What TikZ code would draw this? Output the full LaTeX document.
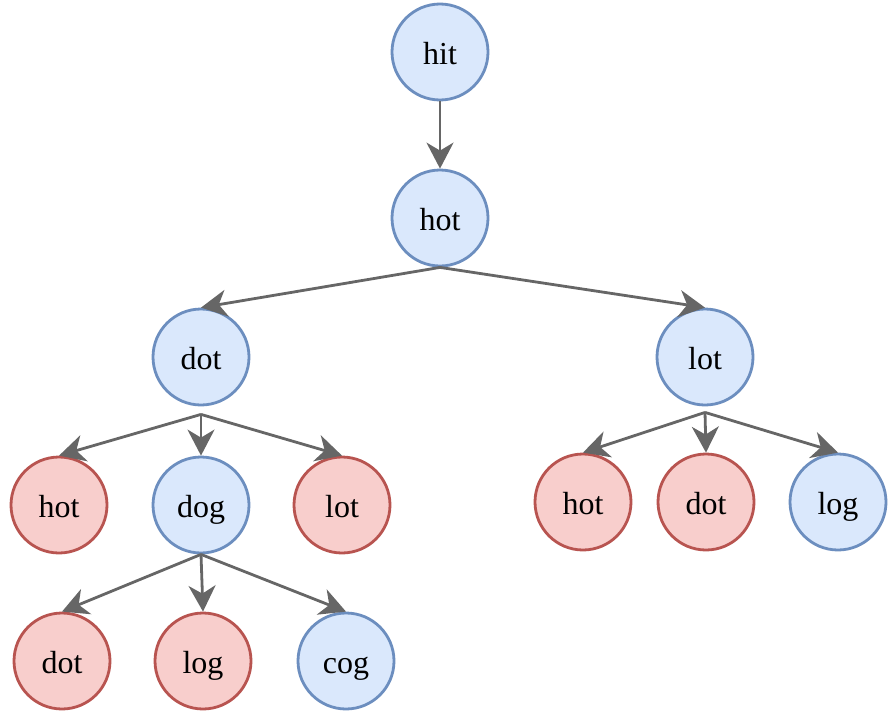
\documentclass[tikz,border=0pt]{standalone}
\usepackage{fontspec}
\setmainfont{Liberation Serif}
\usetikzlibrary{arrows.meta}
\definecolor{BlueFill}{HTML}{DAE8FC}
\definecolor{BlueLine}{HTML}{6C8EBF}
\definecolor{RedFill}{HTML}{F8CECC}
\definecolor{RedLine}{HTML}{B85450}
\definecolor{Edge}{HTML}{666666}

\begin{document}
\begin{tikzpicture}[x=1pt,y=-1pt,font=\fontsize{32}{36}\selectfont,
    word/.style={circle,line width=2.8pt,minimum size=96pt,inner sep=0pt,text height=24pt,text depth=0pt},
    keep/.style={word,draw=BlueLine,fill=BlueFill},
    seen/.style={word,draw=RedLine,fill=RedFill},
    edge/.style={draw=Edge,line width=2.8pt,-{Stealth[length=26pt,width=27pt,inset=8pt]}}]
        \useasboundingbox (0,0) rectangle (893,717);
        % levels of the search
        \node[keep] (hit) at (440,52) {hit};
        \node[keep] (hot) at (440,218) {hot};
        \node[keep] (dot) at (201,357) {dot};
        \node[keep] (lot) at (705,357) {lot};
        \node[seen] (dothot) at (59,505) {hot};
        \node[keep] (dog) at (201,505) {dog};
        \node[seen] (dotlot) at (342,505) {lot};
        \node[seen] (lothot) at (583,502) {hot};
        \node[seen] (lotdot) at (706,502) {dot};
        \node[keep] (log) at (838,502) {log};
        \node[seen] (dogdot) at (62,661) {dot};
        \node[seen] (doglog) at (203,661) {log};
        \node[keep] (cog) at (346,661) {cog};
        % fork points under the parents
        \coordinate (dotfork) at ([yshift=-8pt]dot.south);
        \coordinate (lotfork) at ([yshift=-6pt]lot.south);
        % edges
        \draw[edge] (hit.south)--(hot.north);
        \draw[edge] (hot.south)--(dot.north);
        \draw[edge] (hot.south)--(lot.north);
        \draw[edge] (dotfork)--(dothot.north);
        \draw[edge] (dotfork)--(dog.north);
        \draw[edge] (dotfork)--(dotlot.north);
        \draw[edge] (lotfork)--(lothot.north);
        \draw[edge] (lotfork)--(lotdot.north);
        \draw[edge] (lotfork)--(log.north);
        \draw[edge] (dog.south)--(dogdot.north);
        \draw[edge] (dog.south)--(doglog.north);
        \draw[edge] (dog.south)--(cog.north);
      \end{tikzpicture}
\end{document}
